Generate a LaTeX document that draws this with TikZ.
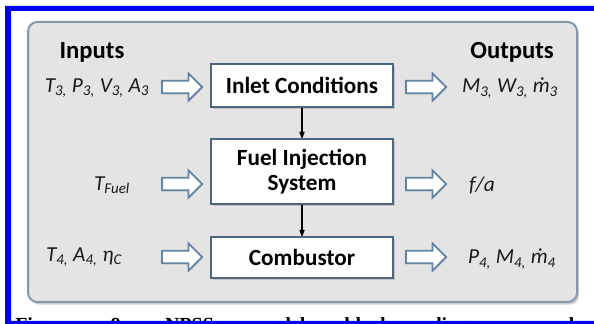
\documentclass[tikz,border=0pt]{standalone}
\usepackage{fontspec}
\setmainfont{Carlito}
\newfontfamily\capfont{Liberation Serif}
\usetikzlibrary{arrows, arrows.meta, shapes.arrows, shadows}

\definecolor{panelfill}{HTML}{E4E4E4}
\definecolor{panelline}{HTML}{8497AB}
\definecolor{boxline}{HTML}{50667C}
\definecolor{fatline}{HTML}{6283A6}
\definecolor{frameblue}{HTML}{0000F0}

\newcommand{\vsub}[2]{#1\textsubscript{#2}}
\newcommand{\mflow}{\accent"02D9 m}

\begin{document}
\begin{tikzpicture}[x=0.75pt, y=-0.75pt, >={Stealth[round]},
    block/.style={draw=boxline, line width=1.1pt, fill=white, minimum width=136.5pt,
        align=center, font=\fontsize{17.4}{19}\selectfont\bfseries,
        drop shadow={shadow xshift=1.5pt, shadow yshift=-1.5pt, opacity=0.35}},
    fat/.style={single arrow, draw=fatline, line width=1.3pt, fill=white,
        minimum height=30pt, inner sep=4pt, single arrow head extend=5.5pt,
        drop shadow={shadow xshift=0.8pt, shadow yshift=-0.8pt, opacity=0.25}},
    var/.style={font=\fontsize{16}{19}\selectfont\itshape, text=black!90},
    head/.style={font=\fontsize{18.5}{22}\selectfont\bfseries}]
    \useasboundingbox (0,0) rectangle (594,324);

    % frame and caption
    \fill[frameblue] (5,6) rectangle (594,11) (5,6) rectangle (11,324) (5,321) rectangle (594,324);
    \begin{scope}
        \clip (11,11) rectangle (594,321);
        \node[anchor=base west, inner sep=0pt, font=\capfont\fontsize{15}{18}\selectfont\bfseries] (cap) at (15,332)
            {\frenchspacing\makebox[477pt][s]{Figure 9. NPSS model block diagram and data}};
    \end{scope}

    % panel
    \draw[panelline, line width=1.5pt, fill=panelfill, rounded corners=7pt,
        drop shadow={shadow xshift=1.5pt, shadow yshift=-2pt, opacity=0.4}] (28,22) rectangle (577,302);

    \node[head] (inputs) at (92,52) {Inputs};
    \node[head] (outputs) at (512,52) {Outputs};

    \node[block, minimum height=32pt] (inlet) at (302,85.5) {Inlet Conditions};
    \node[block, minimum height=49pt] (fuel) at (302,171.5) {Fuel Injection\\System};
    \node[block, minimum height=31pt] (comb) at (302,257.5) {Combustor};

    \draw[->, line width=0.8pt] (inlet) -- (fuel);
    \draw[->, line width=0.8pt] (fuel) -- (comb);

    \node[var] (in1) at (97,88) {\vsub{T}{3,} \vsub{P}{3,} \vsub{V}{3,} \vsub{A}{3}};
    \node[var] (in2) at (112,185) {\vsub{T}{Fuel}};
    \node[var] (in3) at (84,257) {\vsub{T}{4,} \vsub{A}{4,} \vsub{η}{C}};

    \node[var] (out1) at (510,88) {\vsub{M}{3,} \vsub{W}{3,} \vsub{\mflow}{3}};
    \node[var] (out2) at (482,185) {f/a};
    \node[var] (out3) at (512,259) {\vsub{P}{4,} \vsub{M}{4,} \vsub{\mflow}{4}};

    \node[fat] (fin1) at (179,87) {};
    \node[fat] (fin2) at (179,184) {};
    \node[fat] (fin3) at (179,257) {};
    \node[fat] (fout1) at (423,87) {};
    \node[fat] (fout2) at (423,184) {};
    \node[fat] (fout3) at (423,257) {};
\end{tikzpicture}
\end{document}
